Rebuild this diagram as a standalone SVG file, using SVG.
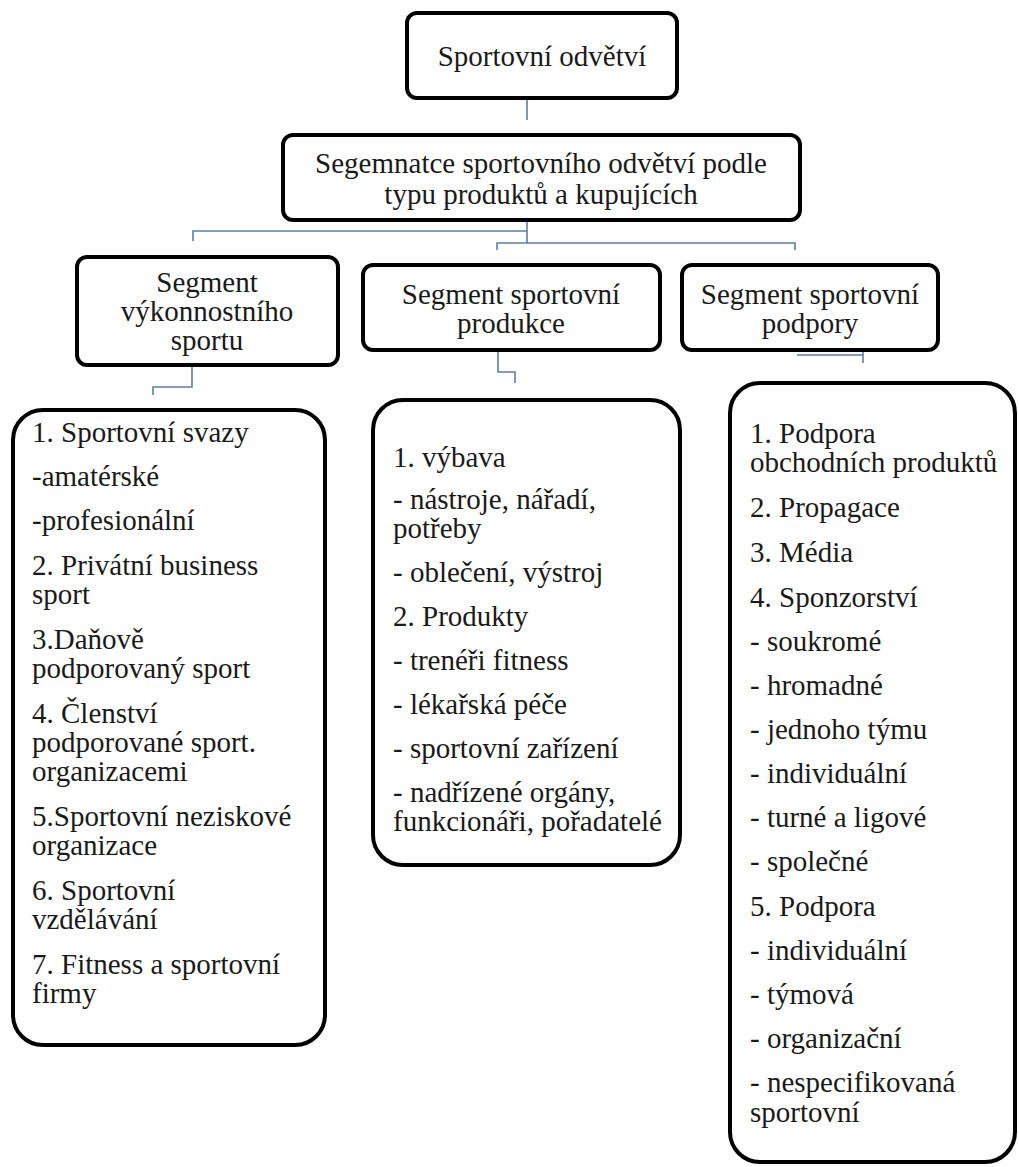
<svg xmlns="http://www.w3.org/2000/svg" width="1019" height="1167" viewBox="0 0 1019 1167">
<style>
.box{fill:#fff;stroke:#000;stroke-width:4}
.t{font-family:"Liberation Serif","Times New Roman",serif;font-size:29px;fill:#1a1a1a}
.c{text-anchor:middle}
.conn{fill:none;stroke:#5b7fa8;stroke-width:1.6}
</style>
<rect width="1019" height="1167" fill="#fff"/>
<g id="connectors">
<path class="conn" d="M527,98 V120"/>
<path class="conn" d="M527,220 V243 M193,241 V231 H527 M497,250 V243 H795 V250"/>
<path class="conn" d="M192,365 V387 H153 V395"/>
<path class="conn" d="M498,350 V372 H515 V383"/>
<path class="conn" d="M797,355 H863 M863,350 V363"/>
</g>
<g id="n-root">
<rect class="box" x="407" y="13" width="270" height="85" rx="10"/>
<text class="t c" x="542" y="66">Sportovní odvětví</text>
</g>
<g id="n-seg">
<rect class="box" x="283" y="135" width="517" height="85" rx="10"/>
<text class="t c" x="541" y="173">Segemnatce sportovního odvětví podle</text>
<text class="t c" x="541" y="204">typu produktů a kupujících</text>
</g>
<g id="n-vyk">
<rect class="box" x="77" y="257" width="261" height="108" rx="10"/>
<text class="t c" x="207" y="292">Segment</text>
<text class="t c" x="207" y="321">výkonnostního</text>
<text class="t c" x="207" y="350">sportu</text>
</g>
<g id="n-prod">
<rect class="box" x="363" y="265" width="297" height="85" rx="10"/>
<text class="t c" x="511" y="304">Segment sportovní</text>
<text class="t c" x="511" y="333">produkce</text>
</g>
<g id="n-podp">
<rect class="box" x="682" y="265" width="256" height="85" rx="10"/>
<text class="t c" x="810" y="304">Segment sportovní</text>
<text class="t c" x="810" y="333">podpory</text>
</g>
<g id="n-list-vyk">
<rect class="box" x="13" y="410" width="312" height="635" rx="30"/>
<text class="t" x="32" y="442">1. Sportovní svazy</text>
<text class="t" x="32" y="486">-amatérské</text>
<text class="t" x="32" y="530">-profesionální</text>
<text class="t" x="32" y="575">2. Privátní business</text>
<text class="t" x="32" y="604">sport</text>
<text class="t" x="32" y="649">3.Daňově</text>
<text class="t" x="32" y="678">podporovaný sport</text>
<text class="t" x="32" y="723">4. Členství</text>
<text class="t" x="32" y="752">podporované sport.</text>
<text class="t" x="32" y="781">organizacemi</text>
<text class="t" x="32" y="826">5.Sportovní neziskové</text>
<text class="t" x="32" y="855">organizace</text>
<text class="t" x="32" y="900">6. Sportovní</text>
<text class="t" x="32" y="929">vzdělávání</text>
<text class="t" x="32" y="974">7. Fitness a sportovní</text>
<text class="t" x="32" y="1003">firmy</text>
</g>
<g id="n-list-prod">
<rect class="box" x="373" y="400" width="307" height="465" rx="30"/>
<text class="t" x="393" y="467">1. výbava</text>
<text class="t" x="393" y="509">- nástroje, nářadí,</text>
<text class="t" x="393" y="538">potřeby</text>
<text class="t" x="393" y="582">- oblečení, výstroj</text>
<text class="t" x="393" y="626">2. Produkty</text>
<text class="t" x="393" y="670">- trenéři fitness</text>
<text class="t" x="393" y="714">- lékařská péče</text>
<text class="t" x="393" y="758">- sportovní zařízení</text>
<text class="t" x="393" y="802">- nadřízené orgány,</text>
<text class="t" x="393" y="831">funkcionáři, pořadatelé</text>
</g>
<g id="n-list-podp">
<rect class="box" x="730" y="383" width="285" height="779" rx="30"/>
<text class="t" x="750" y="443">1. Podpora</text>
<text class="t" x="750" y="472">obchodních produktů</text>
<text class="t" x="750" y="517">2. Propagace</text>
<text class="t" x="750" y="562">3. Média</text>
<text class="t" x="750" y="607">4. Sponzorství</text>
<text class="t" x="750" y="651">- soukromé</text>
<text class="t" x="750" y="695">- hromadné</text>
<text class="t" x="750" y="739">- jednoho týmu</text>
<text class="t" x="750" y="783">- individuální</text>
<text class="t" x="750" y="827">- turné a ligové</text>
<text class="t" x="750" y="871">- společné</text>
<text class="t" x="750" y="916">5. Podpora</text>
<text class="t" x="750" y="960">- individuální</text>
<text class="t" x="750" y="1004">- týmová</text>
<text class="t" x="750" y="1048">- organizační</text>
<text class="t" x="750" y="1092">- nespecifikovaná</text>
<text class="t" x="750" y="1122">sportovní</text>
</g>
</svg>
